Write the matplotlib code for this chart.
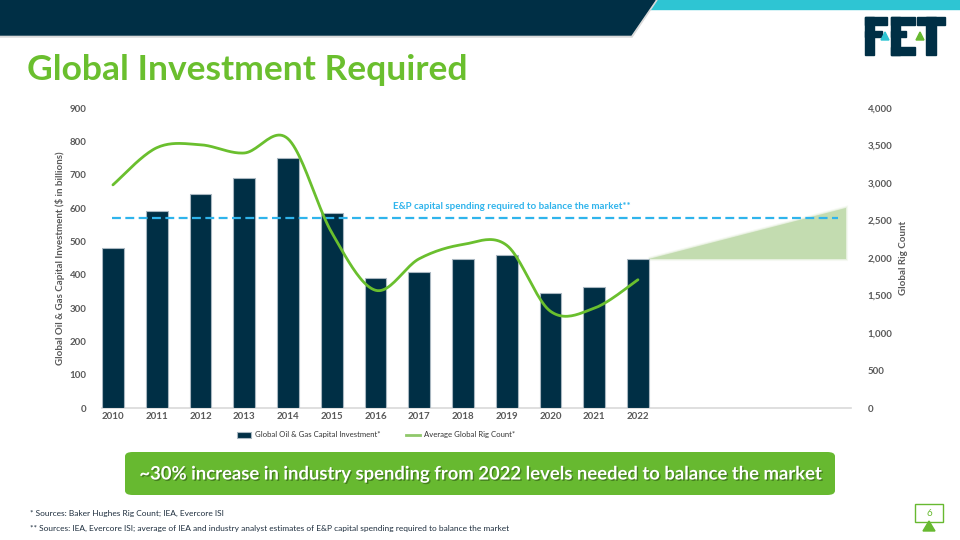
import numpy as np
import matplotlib
matplotlib.use("Agg")
import matplotlib.pyplot as plt
from matplotlib.patches import Polygon, Rectangle, FancyBboxPatch
from matplotlib.lines import Line2D
import matplotlib.patheffects as pe

plt.rcParams['font.family'] = ['Lato', 'DejaVu Sans']

# 数据
years = ['2010', '2011', '2012', '2013', '2014', '2015', '2016',
         '2017', '2018', '2019', '2020', '2021', '2022']
capex = [479, 591, 641, 689, 749, 586, 389, 409, 448, 459, 344, 364, 447]
rigs = [2975, 3470, 3510, 3400, 3590, 2340, 1570, 1990, 2180, 2170, 1290, 1330, 1710]
required_capex = 570
target_capex = 600
left_ticks = [0, 100, 200, 300, 400, 500, 600, 700, 800, 900]
right_ticks = [0, 500, 1000, 1500, 2000, 2500, 3000, 3500, 4000]

NAVY = '#002f45'
GREEN = '#67b930'
BLUE = '#2fb4ec'
GRAY = '#595959'
W, H = 960, 540


def fx(x):
    return x / W


def fy(y):
    return 1 - y / H


def catmull_rom(xs, ys, n=24):
    # 类似 Excel 的平滑曲线
    xs = np.asarray(xs, float)
    ys = np.asarray(ys, float)
    px = np.concatenate([[xs[0]], xs, [xs[-1]]])
    py = np.concatenate([[ys[0]], ys, [ys[-1]]])
    out_x, out_y = [], []
    t = np.linspace(0, 1, n)
    for i in range(1, len(px) - 2):
        for p, out in ((px, out_x), (py, out_y)):
            p0, p1, p2, p3 = p[i - 1], p[i], p[i + 1], p[i + 2]
            m1 = (p2 - p0) / 2
            m2 = (p3 - p1) / 2
            h = ((2 * t**3 - 3 * t**2 + 1) * p1 + (t**3 - 2 * t**2 + t) * m1
                 + (-2 * t**3 + 3 * t**2) * p2 + (t**3 - t**2) * m2)
            out.extend(h)
    return np.array(out_x), np.array(out_y)


fig = plt.figure(figsize=(9.6, 5.4), dpi=100)

# 顶部横幅
fig.patches.append(Rectangle((fx(640), fy(9)), 1 - fx(640), 9 / H,
                             transform=fig.transFigure, color='#2ec5d3', zorder=1))
fig.patches.append(Polygon([(0, fy(37)), (fx(632), fy(37)), (fx(657), fy(0)), (0, fy(0))],
                           closed=True, transform=fig.transFigure, color='#d9d9d9', zorder=1))
fig.patches.append(Polygon([(0, fy(35)), (fx(631), fy(35)), (fx(655), fy(0)), (0, fy(0))],
                           closed=True, transform=fig.transFigure, color=NAVY, zorder=2))

# FET 标志
logo = [
    (865, 17, 9, 38), (865, 17, 22, 8), (865, 31, 17, 6),
    (891, 17, 9, 38), (891, 17, 24, 8), (891, 31, 15, 6), (891, 47, 24, 8),
    (917, 17, 28, 8), (926, 17, 10, 38),
]
for x, y, w, h in logo:
    fig.patches.append(Rectangle((fx(x), fy(y + h)), w / W, h / H,
                                 transform=fig.transFigure, color=NAVY, zorder=3))
fig.patches.append(Polygon([(fx(881), fy(40)), (fx(889), fy(40)), (fx(885), fy(32))],
                           transform=fig.transFigure, color='#2ec5d3', zorder=4))
fig.patches.append(Polygon([(fx(916), fy(40)), (fx(924), fy(40)), (fx(920), fy(32))],
                           transform=fig.transFigure, color=GREEN, zorder=4))

fig.text(fx(27), fy(70), 'Global Investment Required', fontsize=25.5, fontweight='bold',
         color='#6abf2e', va='center', ha='left')

# 主图
x = np.arange(len(years))
ax = fig.add_axes([fx(102), fy(408), (851 - 102) / W, 300 / H])
bars = ax.bar(x, capex, width=0.5, color=NAVY, edgecolor='#a9b7c1', linewidth=0.8,
              zorder=3, label='Global Oil & Gas Capital Investment*')
ax.set_xlim(-0.25, 16.87)
ax.set_ylim(0, 900)
ax.set_yticks(left_ticks)
ax.set_yticklabels([str(v) for v in left_ticks])
ax.set_xticks(x)
ax.set_xticklabels(years)
for s in ['top', 'right', 'left']:
    ax.spines[s].set_visible(False)
ax.spines['bottom'].set_color('#d9d9d9')
ax.spines['bottom'].set_linewidth(1.2)
ax.tick_params(axis='both', length=0, labelsize=7, labelcolor=GRAY)
ax.tick_params(axis='y', pad=11)
ax.tick_params(axis='x', pad=3)
for lab in ax.get_xticklabels() + ax.get_yticklabels():
    lab.set_fontweight('bold')
ax.set_ylabel('Global Oil & Gas Capital Investment ($ in billions)', fontsize=7,
              color=GRAY, fontweight='bold', labelpad=3.5)

# 需要的资本开支（虚线）
ax.hlines(required_capex, -0.02, 16.57, colors=BLUE, linestyles=(0, (4, 2)),
          linewidth=1.6, zorder=4)
ax.text(9.12, required_capex + 20, 'E&P capital spending required to balance the market**',
        fontsize=7, fontweight='bold', color=BLUE, ha='center', va='bottom', zorder=5)

# 增长三角形
tri_x = [12.25, 16.75, 16.75]
tri_y = [capex[-1], capex[-1], target_capex]
for k, a in zip([3.0, 1.5, 0], [0.15, 0.3, 1.0]):
    ax.add_patch(Polygon(list(zip(tri_x, tri_y)), closed=True, facecolor='#c3dcb0',
                         edgecolor='#c3dcb0', linewidth=k, alpha=a, zorder=2))

# 钻机数（右轴）
ax2 = ax.twinx()
ax2.set_ylim(0, 4000)
ax2.set_yticks(right_ticks)
ax2.set_yticklabels([f'{v:,}' for v in right_ticks])
for s in ['top', 'right', 'left', 'bottom']:
    ax2.spines[s].set_visible(False)
ax2.tick_params(axis='y', length=0, labelsize=7, labelcolor=GRAY, pad=12)
for lab in ax2.get_yticklabels():
    lab.set_fontweight('bold')
    lab.set_horizontalalignment('left')
ax2.set_ylabel('Global Rig Count', fontsize=7, color=GRAY, fontweight='bold', labelpad=5)
sx, sy = catmull_rom(x, rigs)
line, = ax2.plot(sx, sy, color='#6abf2e', linewidth=2, zorder=5,
                 label='Average Global Rig Count*', solid_capstyle='round')

# 图例
leg_line = Line2D([], [], color='#8fc86a', linewidth=2)
fig.legend([bars, leg_line], [bars.get_label(), line.get_label()], ncol=2, loc='center',
           bbox_to_anchor=(fx(376), fy(435)), frameon=False, fontsize=5.6,
           handlelength=1.8, handleheight=0.7, columnspacing=3.2, handletextpad=0.5,
           labelcolor='#333333')

# 绿色结论框
fig.patches.append(FancyBboxPatch((fx(125), fy(495)), fx(835) - fx(125), (495 - 452) / H,
                                  boxstyle='round,pad=0,rounding_size=0.008',
                                  transform=fig.transFigure, facecolor=GREEN,
                                  edgecolor='none', zorder=2))
fig.text(fx(482), fy(474),
         '~30% increase in industry spending from 2022 levels needed to balance the market',
         fontsize=13.3, fontweight='bold', color='white', ha='center', va='center',
         path_effects=[pe.withSimplePatchShadow(offset=(1, -1), shadow_rgbFace='#2f5a14',
                                                alpha=0.6)])

# 脚注
fig.text(fx(30), fy(513), '* Sources: Baker Hughes Rig Count; IEA, Evercore ISI',
         fontsize=6.0, color='#1f2f3f', va='center')
fig.text(fx(30), fy(528),
         '** Sources: IEA, Evercore ISI; average of IEA and industry analyst estimates of '
         'E&P capital spending required to balance the market',
         fontsize=6.0, color='#1f2f3f', va='center')

# 页码
fig.patches.append(Rectangle((fx(915), fy(522)), 28 / W, 18 / H, transform=fig.transFigure,
                             facecolor='white', edgecolor=GREEN, linewidth=1, zorder=3))
fig.text(fx(929), fy(513), '6', fontsize=7, color=GREEN, ha='center', va='center')
fig.patches.append(Polygon([(fx(923), fy(531)), (fx(935), fy(531)), (fx(929), fy(521))],
                           transform=fig.transFigure, color=GREEN, zorder=4))

fig.savefig('out.png', dpi=100)
